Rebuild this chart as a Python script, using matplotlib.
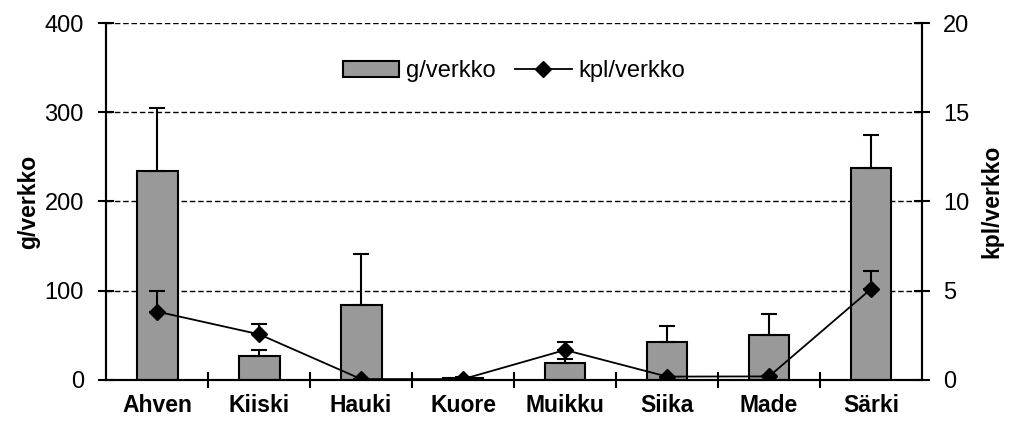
import matplotlib.pyplot as plt
from matplotlib.lines import Line2D
import numpy as np

plt.rcParams['font.family'] = ['Liberation Sans', 'DejaVu Sans']

lajit = ['Ahven', 'Kiiski', 'Hauki', 'Kuore', 'Muikku', 'Siika', 'Made', 'Särki']
g_verkko = [234, 27, 84, 2, 19, 42, 50, 238]
g_err = [71, 7, 57, 1, 5, 19, 24, 36]
kpl_verkko = [3.83, 2.56, 0.05, 0.05, 1.68, 0.19, 0.2, 5.1]
kpl_err = [1.14, 0.6, 0, 0, 0.43, 0, 0, 1.0]

x = np.arange(len(lajit))

fig = plt.figure(figsize=(10.11, 4.23), dpi=100)
ax = fig.add_axes([0.105, 0.1017, 0.807, 0.8439])
ax2 = ax.twinx()

ax.set_axisbelow(True)
ax.yaxis.grid(True, linestyle=(0, (4, 2)), color='black', linewidth=1)
bars = ax.bar(x, g_verkko, width=0.4, color='#999999', edgecolor='black', linewidth=1.5,
              yerr=[np.zeros(len(g_err)), g_err], capsize=6,
              error_kw=dict(elinewidth=1.5, capthick=1.5, ecolor='black'))

ax2.errorbar(x, kpl_verkko, yerr=[np.zeros(len(kpl_err)), kpl_err], color='black',
             marker='D', markersize=8, linewidth=1.3, capsize=6, capthick=1.5,
             elinewidth=1.5)

ax.set_xlim(-0.5, len(lajit) - 0.5)
ax.set_ylim(0, 400)
ax2.set_ylim(0, 20)
ax.set_yticks([0, 100, 200, 300, 400])
ax2.set_yticks([0, 5, 10, 15, 20])

ax.set_xticks(x)
ax.set_xticklabels(lajit, fontsize=16.5, fontweight='bold')
ax.set_xticks(np.arange(0.5, len(lajit) - 1, 1), minor=True)
ax.tick_params(axis='x', which='major', length=0, pad=10)
ax.tick_params(axis='x', which='minor', length=12, width=1.5, direction='inout')
ax.tick_params(axis='y', labelsize=17, length=12, width=1.5, direction='inout', pad=10)
ax2.tick_params(axis='y', labelsize=17, length=12, width=1.5, direction='inout', pad=9)

for a in (ax, ax2):
    a.spines['top'].set_visible(False)
    for s in ('left', 'right', 'bottom'):
        a.spines[s].set_linewidth(1.5)

ax.set_ylabel('g/verkko', fontsize=16.5, fontweight='bold', labelpad=3)
ax2.set_ylabel('kpl/verkko', fontsize=16.5, fontweight='bold', labelpad=8)

h_bar = bars
h_line = Line2D([], [], color='black', marker='D', markersize=8, linewidth=1.3)
ax2.legend([h_bar, h_line], ['g/verkko', 'kpl/verkko'], loc='upper center',
           bbox_to_anchor=(0.5, 0.955), ncol=2, frameon=False, fontsize=17,
           handlelength=2.4, columnspacing=0.8, handletextpad=0.3)

fig.savefig('out.png', dpi=100)
